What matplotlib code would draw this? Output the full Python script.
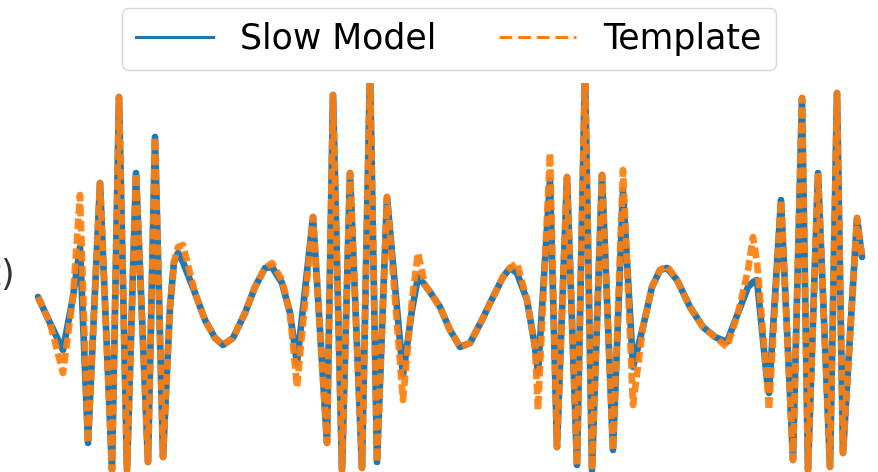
import matplotlib
matplotlib.use("Agg")
import matplotlib.pyplot as plt
from matplotlib.lines import Line2D

# time (s) and strain values
t = [0.000, 0.060, 0.125, 0.175, 0.210, 0.250, 0.310, 0.370, 0.405, 0.445,
     0.490, 0.550, 0.585, 0.625, 0.660, 0.680, 0.700, 0.725, 0.785, 0.835,
     0.885, 0.925, 0.975, 1.035, 1.085, 1.135, 1.170, 1.220, 1.260, 1.295,
     1.375, 1.445, 1.475, 1.520, 1.560, 1.620, 1.660, 1.695, 1.745, 1.825,
     1.870, 1.900, 1.935, 1.960, 2.010, 2.060, 2.110, 2.160, 2.220, 2.275,
     2.325, 2.360, 2.395, 2.445, 2.485, 2.500, 2.560, 2.595, 2.645, 2.695,
     2.735, 2.770, 2.820, 2.875, 2.925, 2.975, 3.025, 3.070, 3.110, 3.145,
     3.195, 3.260, 3.325, 3.385, 3.445, 3.500, 3.550, 3.575, 3.595, 3.645,
     3.655, 3.715, 3.775, 3.820, 3.850, 3.900, 3.960, 3.995, 4.025, 4.095,
     4.120]

slow_model = [0.08, -0.18, -0.45, 0.08, 0.58, -1.38, 1.22, -1.65, 2.08, -1.65,
              1.32, -1.57, 1.68, -1.52, -0.02, 0.43, 0.52, 0.43, 0.12, -0.15,
              -0.33, -0.40, -0.33, -0.08, 0.18, 0.37, 0.38, 0.22, -0.08, -0.58,
              0.88, -1.38, 2.10, -1.65, 1.32, -1.63, 2.35, -1.57, 1.08, -0.70,
              -0.05, 0.28, 0.20, 0.13, -0.02, -0.25, -0.42, -0.38, -0.15, 0.08,
              0.28, 0.37, 0.32, 0.05, -0.42, -0.68, 1.25, -1.42, 1.28, -1.60,
              2.35, -1.65, 1.30, -1.45, 1.15, -0.62, -0.22, 0.18, 0.35, 0.37,
              0.25, -0.02, -0.22, -0.32, -0.37, -0.08, 0.18, 0.23, 0.25, -0.75,
              -0.88, 1.05, -1.55, 2.07, -1.65, 1.32, -1.62, 2.12, -1.48, 0.87,
              0.48]

template = [0.08, -0.18, -0.68, 0.08, 1.10, -1.38, 1.22, -1.65, 2.08, -1.65,
            1.32, -1.57, 1.68, -1.52, -0.02, 0.43, 0.58, 0.60, 0.12, -0.15,
            -0.33, -0.40, -0.33, -0.08, 0.18, 0.37, 0.42, 0.25, -0.08, -0.82,
            0.88, -1.38, 2.10, -1.65, 1.32, -1.63, 2.35, -1.57, 1.08, -0.95,
            0.05, 0.52, 0.20, 0.13, -0.02, -0.25, -0.42, -0.38, -0.15, 0.08,
            0.28, 0.37, 0.42, 0.05, -0.42, -1.05, 1.52, -1.42, 1.28, -1.60,
            2.35, -1.65, 1.30, -1.45, 1.35, -1.00, -0.22, 0.18, 0.35, 0.39,
            0.25, -0.02, -0.22, -0.32, -0.42, -0.08, 0.35, 0.68, 0.43, -0.75,
            -1.05, 1.05, -1.55, 2.07, -1.65, 1.32, -1.62, 2.12, -1.48, 0.87,
            0.48]

BLUE = "#1f77b4"
ORANGE = "#ff7f0e"

fig = plt.figure(figsize=(8.79, 4.72), dpi=100)
ax = fig.add_axes([0.0, 0.0, 1.0, 1 - 83 / 472])

ax.plot(t, slow_model, color=BLUE, lw=4.8, solid_joinstyle="round",
        solid_capstyle="round")
ax.plot(t, template, color=ORANGE, lw=4.8, dashes=(1.6, 0.65),
        dash_joinstyle="round", alpha=0.92)

ax.set_xlim(-0.19, 4.205)
ax.set_ylim(-1.67, 2.22)
ax.axis("off")

fig.text(16 / 879, 1 - 275 / 472, "h(t)", fontsize=25, ha="right", va="center",
         color="#333333")

handles = [Line2D([], [], color=BLUE, lw=2.2),
           Line2D([], [], color=ORANGE, lw=2.2, dashes=(4.2, 1.9))]
fig.legend(handles, ["Slow Model", "Template"], loc="upper center",
           bbox_to_anchor=(449 / 879, 1 - 8 / 472), borderaxespad=0, ncol=2,
           fontsize=25, handlelength=2.2, columnspacing=1.8, framealpha=0.8,
           edgecolor="#cccccc")

fig.savefig("out.png", dpi=100)
